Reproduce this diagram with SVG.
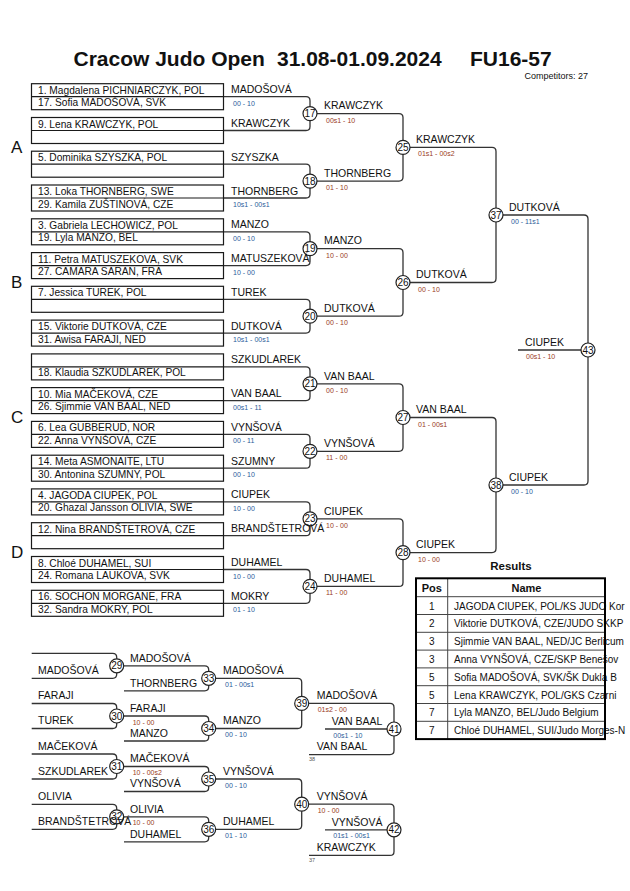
<svg xmlns="http://www.w3.org/2000/svg" width="630" height="891" viewBox="0 0 630 891">
<style>
text{font-family:"Liberation Sans",Arial,sans-serif;fill:#111}
.bx{fill:none;stroke:#1a1a1a;stroke-width:1.2}
.ln{fill:none;stroke:#333;stroke-width:1.3}
.c{fill:#fff;stroke:#222;stroke-width:1.2}
.cn{font-size:10px;text-anchor:middle}
.n{font-size:10.2px}
.w{font-size:10.5px}
.sb{font-size:7px;fill:#2a5c9a}
.sr{font-size:7px;fill:#9a3b22}
.pl{font-size:17px}
.tiny{font-size:5.5px;fill:#555}
.th{font-size:11px;font-weight:bold}
.tr{font-size:10px}
.tb{fill:none;stroke:#444;stroke-width:1}
</style>
<rect width="630" height="891" fill="#fff"/>
<g id="title">
<text font-weight="bold" font-size="21"><tspan x="73.5" y="66">Cracow Judo Open</tspan><tspan x="277" y="66">31.08-01.09.2024</tspan><tspan x="470" y="66">FU16-57</tspan></text>
<text x="588" y="78.5" font-size="9" text-anchor="end">Competitors: 27</text>
</g>
<g id="pool-labels">
<text class="pl" x="11" y="153">A</text>
<text class="pl" x="11" y="288">B</text>
<text class="pl" x="11" y="423">C</text>
<text class="pl" x="11" y="558">D</text>
</g>
<g id="connectors">
<path class="ln" d="M223.5 96.7H306Q310 96.7 310 100.7V126.5Q310 130.5 306 130.5H223.5"/>
<path class="ln" d="M223.5 164.2H306Q310 164.2 310 168.2V194Q310 198 306 198H223.5"/>
<path class="ln" d="M223.5 231.8H306Q310 231.8 310 235.8V261.6Q310 265.6 306 265.6H223.5"/>
<path class="ln" d="M223.5 299.3H306Q310 299.3 310 303.3V329.1Q310 333.1 306 333.1H223.5"/>
<path class="ln" d="M223.5 366.9H306Q310 366.9 310 370.9V396.6Q310 400.6 306 400.6H223.5"/>
<path class="ln" d="M223.5 434.4H306Q310 434.4 310 438.4V464.2Q310 468.2 306 468.2H223.5"/>
<path class="ln" d="M223.5 501.9H306Q310 501.9 310 505.9V531.7Q310 535.7 306 535.7H223.5"/>
<path class="ln" d="M223.5 569.5H306Q310 569.5 310 573.5V599.3Q310 603.3 306 603.3H223.5"/>
<path class="ln" d="M310 113.6H399Q403 113.6 403 117.6V177.1Q403 181.1 399 181.1H310"/>
<path class="ln" d="M310 248.7H399Q403 248.7 403 252.7V312.2Q403 316.2 399 316.2H310"/>
<path class="ln" d="M310 383.8H399Q403 383.8 403 387.8V447.3Q403 451.3 399 451.3H310"/>
<path class="ln" d="M310 518.8H399Q403 518.8 403 522.8V582.4Q403 586.4 399 586.4H310"/>
<path class="ln" d="M403 147.4H492Q496 147.4 496 151.4V278.5Q496 282.5 492 282.5H403"/>
<path class="ln" d="M403 417.5H492Q496 417.5 496 421.5V548.6Q496 552.6 492 552.6H403"/>
<path class="ln" d="M496 215H584Q588 215 588 219V481Q588 485 584 485H496"/>
<path class="ln" d="M518 350H588"/>
<path class="ln" d="M31.7 653.3H112.7Q116.7 653.3 116.7 657.3V674.3Q116.7 678.3 112.7 678.3H31.7"/>
<path class="ln" d="M31.7 703.5H112.7Q116.7 703.5 116.7 707.5V724.5Q116.7 728.5 112.7 728.5H31.7"/>
<path class="ln" d="M31.7 754H112.7Q116.7 754 116.7 758V775Q116.7 779 112.7 779H31.7"/>
<path class="ln" d="M31.7 804.3H112.7Q116.7 804.3 116.7 808.3V825.3Q116.7 829.3 112.7 829.3H31.7"/>
<path class="ln" d="M116.7 665.8H204.7Q208.7 665.8 208.7 669.8V686.8Q208.7 690.8 204.7 690.8H124"/>
<path class="ln" d="M116.7 716H204.7Q208.7 716 208.7 720V737Q208.7 741 204.7 741H124"/>
<path class="ln" d="M116.7 766.5H204.7Q208.7 766.5 208.7 770.5V787.5Q208.7 791.5 204.7 791.5H124"/>
<path class="ln" d="M116.7 816.8H204.7Q208.7 816.8 208.7 820.8V837.8Q208.7 841.8 204.7 841.8H124"/>
<path class="ln" d="M208.7 678.3H297.7Q301.7 678.3 301.7 682.3V724.5Q301.7 728.5 297.7 728.5H208.7"/>
<path class="ln" d="M208.7 779H297.7Q301.7 779 301.7 783V825.3Q301.7 829.3 297.7 829.3H208.7"/>
<path class="ln" d="M301.7 703.4H390Q394 703.4 394 707.4V750.6Q394 754.6 390 754.6H309"/>
<path class="ln" d="M325 729H394"/>
<path class="ln" d="M301.7 804.2H390Q394 804.2 394 808.2V851.4Q394 855.4 390 855.4H309"/>
<path class="ln" d="M325 829.8H394"/>
</g>
<g id="m17"><circle class="c" cx="310" cy="113.6" r="7"/><text class="cn" x="310" y="117.1">17</text><text class="w" x="324" y="109.3">KRAWCZYK</text><text class="sr" x="326" y="122.6">00s1 - 10</text></g>
<g id="m18"><circle class="c" cx="310" cy="181.1" r="7"/><text class="cn" x="310" y="184.6">18</text><text class="w" x="324" y="176.8">THORNBERG</text><text class="sr" x="326" y="190.1">01 - 10</text></g>
<g id="m19"><circle class="c" cx="310" cy="248.7" r="7"/><text class="cn" x="310" y="252.2">19</text><text class="w" x="324" y="244.4">MANZO</text><text class="sr" x="326" y="257.7">10 - 00</text></g>
<g id="m20"><circle class="c" cx="310" cy="316.2" r="7"/><text class="cn" x="310" y="319.7">20</text><text class="w" x="324" y="311.9">DUTKOVÁ</text><text class="sr" x="326" y="325.2">00 - 10</text></g>
<g id="m21"><circle class="c" cx="310" cy="383.8" r="7"/><text class="cn" x="310" y="387.3">21</text><text class="w" x="324" y="379.5">VAN BAAL</text><text class="sr" x="326" y="392.8">00 - 10</text></g>
<g id="m22"><circle class="c" cx="310" cy="451.3" r="7"/><text class="cn" x="310" y="454.8">22</text><text class="w" x="324" y="447">VYNŠOVÁ</text><text class="sr" x="326" y="460.3">11 - 00</text></g>
<g id="m23"><circle class="c" cx="310" cy="518.8" r="7"/><text class="cn" x="310" y="522.3">23</text><text class="w" x="324" y="514.5">CIUPEK</text><text class="sr" x="326" y="527.8">10 - 00</text></g>
<g id="m24"><circle class="c" cx="310" cy="586.4" r="7"/><text class="cn" x="310" y="589.9">24</text><text class="w" x="324" y="582.1">DUHAMEL</text><text class="sr" x="326" y="595.4">11 - 00</text></g>
<g id="m25"><circle class="c" cx="403" cy="147.4" r="7"/><text class="cn" x="403" y="150.9">25</text><text class="w" x="416" y="143.1">KRAWCZYK</text><text class="sr" x="418" y="156.4">01s1 - 00s2</text></g>
<g id="m26"><circle class="c" cx="403" cy="282.5" r="7"/><text class="cn" x="403" y="286">26</text><text class="w" x="416" y="278.2">DUTKOVÁ</text><text class="sr" x="418" y="291.5">00 - 10</text></g>
<g id="m27"><circle class="c" cx="403" cy="417.5" r="7"/><text class="cn" x="403" y="421">27</text><text class="w" x="416" y="413.2">VAN BAAL</text><text class="sr" x="418" y="426.5">01 - 00s1</text></g>
<g id="m28"><circle class="c" cx="403" cy="552.6" r="7"/><text class="cn" x="403" y="556.1">28</text><text class="w" x="416" y="548.3">CIUPEK</text><text class="sr" x="418" y="561.6">10 - 00</text></g>
<g id="m37"><circle class="c" cx="496" cy="215" r="7"/><text class="cn" x="496" y="218.5">37</text><text class="w" x="509" y="210.7">DUTKOVÁ</text><text class="sb" x="511" y="224">00 - 11s1</text></g>
<g id="m38"><circle class="c" cx="496" cy="485" r="7"/><text class="cn" x="496" y="488.5">38</text><text class="w" x="509" y="480.7">CIUPEK</text><text class="sb" x="511" y="494">00 - 10</text></g>
<g id="m43"><circle class="c" cx="588" cy="350" r="7"/><text class="cn" x="588" y="353.5">43</text><text class="w" x="525" y="345.7">CIUPEK</text><text class="sr" x="526" y="359">00s1 - 10</text></g>
<g id="e1"><rect class="bx" x="31.5" y="83.7" width="192" height="26"/><path class="bx" d="M31.5 96.7H223.5"/><text class="n" x="38" y="93.7">1. Magdalena PICHNIARCZYK, POL</text><text class="n" x="38" y="106.2">17. Sofia MADOŠOVÁ, SVK</text><text class="w" x="231" y="93.2">MADOŠOVÁ</text><text class="sb" x="233" y="105.7">00 - 10</text></g>
<g id="e2"><rect class="bx" x="31.5" y="117.5" width="192" height="26"/><path class="bx" d="M31.5 130.5H223.5"/><text class="n" x="38" y="127.5">9. Lena KRAWCZYK, POL</text><text class="w" x="231" y="127">KRAWCZYK</text></g>
<g id="e3"><rect class="bx" x="31.5" y="151.2" width="192" height="26"/><path class="bx" d="M31.5 164.2H223.5"/><text class="n" x="38" y="161.2">5. Dominika SZYSZKA, POL</text><text class="w" x="231" y="160.7">SZYSZKA</text></g>
<g id="e4"><rect class="bx" x="31.5" y="185" width="192" height="26"/><path class="bx" d="M31.5 198H223.5"/><text class="n" x="38" y="195">13. Loka THORNBERG, SWE</text><text class="n" x="38" y="207.5">29. Kamila ZUŠTINOVÁ, CZE</text><text class="w" x="231" y="194.5">THORNBERG</text><text class="sb" x="233" y="207">10s1 - 00s1</text></g>
<g id="e5"><rect class="bx" x="31.5" y="218.8" width="192" height="26"/><path class="bx" d="M31.5 231.8H223.5"/><text class="n" x="38" y="228.8">3. Gabriela LECHOWICZ, POL</text><text class="n" x="38" y="241.3">19. Lyla MANZO, BEL</text><text class="w" x="231" y="228.3">MANZO</text><text class="sb" x="233" y="240.8">00 - 10</text></g>
<g id="e6"><rect class="bx" x="31.5" y="252.6" width="192" height="26"/><path class="bx" d="M31.5 265.6H223.5"/><text class="n" x="38" y="262.6">11. Petra MATUSZEKOVA, SVK</text><text class="n" x="38" y="275.1">27. CAMARA SARAN, FRA</text><text class="w" x="231" y="262.1">MATUSZEKOVÁ</text><text class="sb" x="233" y="274.6">10 - 00</text></g>
<g id="e7"><rect class="bx" x="31.5" y="286.3" width="192" height="26"/><path class="bx" d="M31.5 299.3H223.5"/><text class="n" x="38" y="296.3">7. Jessica TUREK, POL</text><text class="w" x="231" y="295.8">TUREK</text></g>
<g id="e8"><rect class="bx" x="31.5" y="320.1" width="192" height="26"/><path class="bx" d="M31.5 333.1H223.5"/><text class="n" x="38" y="330.1">15. Viktorie DUTKOVÁ, CZE</text><text class="n" x="38" y="342.6">31. Awisa FARAJI, NED</text><text class="w" x="231" y="329.6">DUTKOVÁ</text><text class="sb" x="233" y="342.1">10s1 - 00s1</text></g>
<g id="e9"><rect class="bx" x="31.5" y="353.9" width="192" height="26"/><path class="bx" d="M31.5 366.9H223.5"/><text class="n" x="38" y="376.4">18. Klaudia SZKUDLAREK, POL</text><text class="w" x="231" y="363.4">SZKUDLAREK</text></g>
<g id="e10"><rect class="bx" x="31.5" y="387.6" width="192" height="26"/><path class="bx" d="M31.5 400.6H223.5"/><text class="n" x="38" y="397.6">10. Mia MAČEKOVÁ, CZE</text><text class="n" x="38" y="410.1">26. Sjimmie VAN BAAL, NED</text><text class="w" x="231" y="397.1">VAN BAAL</text><text class="sb" x="233" y="409.6">00s1 - 11</text></g>
<g id="e11"><rect class="bx" x="31.5" y="421.4" width="192" height="26"/><path class="bx" d="M31.5 434.4H223.5"/><text class="n" x="38" y="431.4">6. Lea GUBBERUD, NOR</text><text class="n" x="38" y="443.9">22. Anna VYNŠOVÁ, CZE</text><text class="w" x="231" y="430.9">VYNŠOVÁ</text><text class="sb" x="233" y="443.4">00 - 11</text></g>
<g id="e12"><rect class="bx" x="31.5" y="455.2" width="192" height="26"/><path class="bx" d="M31.5 468.2H223.5"/><text class="n" x="38" y="465.2">14. Meta ASMONAITE, LTU</text><text class="n" x="38" y="477.7">30. Antonina SZUMNY, POL</text><text class="w" x="231" y="464.7">SZUMNY</text><text class="sb" x="233" y="477.2">00 - 10</text></g>
<g id="e13"><rect class="bx" x="31.5" y="488.9" width="192" height="26"/><path class="bx" d="M31.5 501.9H223.5"/><text class="n" x="38" y="498.9">4. JAGODA CIUPEK, POL</text><text class="n" x="38" y="511.4">20. Ghazal Jansson OLIVIA, SWE</text><text class="w" x="231" y="498.4">CIUPEK</text><text class="sb" x="233" y="510.9">10 - 00</text></g>
<g id="e14"><rect class="bx" x="31.5" y="522.7" width="192" height="26"/><path class="bx" d="M31.5 535.7H223.5"/><text class="n" x="38" y="532.7">12. Nina BRANDŠTETROVÁ, CZE</text><text class="w" x="231" y="532.2">BRANDŠTETROVÁ</text></g>
<g id="e15"><rect class="bx" x="31.5" y="556.5" width="192" height="26"/><path class="bx" d="M31.5 569.5H223.5"/><text class="n" x="38" y="566.5">8. Chloé DUHAMEL, SUI</text><text class="n" x="38" y="579">24. Romana LAUKOVA, SVK</text><text class="w" x="231" y="566">DUHAMEL</text><text class="sb" x="233" y="578.5">10 - 00</text></g>
<g id="e16"><rect class="bx" x="31.5" y="590.3" width="192" height="26"/><path class="bx" d="M31.5 603.3H223.5"/><text class="n" x="38" y="600.3">16. SOCHON MORGANE, FRA</text><text class="n" x="38" y="612.8">32. Sandra MOKRY, POL</text><text class="w" x="231" y="599.8">MOKRY</text><text class="sb" x="233" y="612.3">01 - 10</text></g>
<g id="m29"><circle class="c" cx="116.7" cy="665.8" r="7"/><text class="cn" x="116.7" y="669.3">29</text><text class="w" x="130" y="661.5">MADOŠOVÁ</text></g>
<g id="m30"><circle class="c" cx="116.7" cy="716" r="7"/><text class="cn" x="116.7" y="719.5">30</text><text class="w" x="130" y="711.7">FARAJI</text><text class="sr" x="132.7" y="724.5">10 - 00</text></g>
<g id="m31"><circle class="c" cx="116.7" cy="766.5" r="7"/><text class="cn" x="116.7" y="770">31</text><text class="w" x="130" y="762.2">MAČEKOVÁ</text><text class="sr" x="132.7" y="775">10 - 00s2</text></g>
<g id="m32"><circle class="c" cx="116.7" cy="816.8" r="7"/><text class="cn" x="116.7" y="820.3">32</text><text class="w" x="130" y="812.5">OLIVIA</text><text class="sr" x="132.7" y="825.3">10 - 00</text></g>
<g id="m33"><circle class="c" cx="208.7" cy="678.3" r="7"/><text class="cn" x="208.7" y="681.8">33</text><text class="w" x="223" y="674">MADOŠOVÁ</text><text class="sb" x="225" y="686.8">01 - 00s1</text></g>
<g id="m34"><circle class="c" cx="208.7" cy="728.5" r="7"/><text class="cn" x="208.7" y="732">34</text><text class="w" x="223" y="724.2">MANZO</text><text class="sb" x="225" y="737">00 - 10</text></g>
<g id="m35"><circle class="c" cx="208.7" cy="779" r="7"/><text class="cn" x="208.7" y="782.5">35</text><text class="w" x="223" y="774.7">VYNŠOVÁ</text><text class="sb" x="225" y="787.5">00 - 10</text></g>
<g id="m36"><circle class="c" cx="208.7" cy="829.3" r="7"/><text class="cn" x="208.7" y="832.8">36</text><text class="w" x="223" y="825">DUHAMEL</text><text class="sb" x="225" y="837.8">01 - 10</text></g>
<g id="m39"><circle class="c" cx="301.7" cy="703.4" r="7"/><text class="cn" x="301.7" y="706.9">39</text><text class="w" x="316.7" y="699.1">MADOŠOVÁ</text><text class="sr" x="317.7" y="711.9">01s2 - 00</text></g>
<g id="m40"><circle class="c" cx="301.7" cy="804.2" r="7"/><text class="cn" x="301.7" y="807.7">40</text><text class="w" x="316.7" y="799.9">VYNŠOVÁ</text><text class="sr" x="317.7" y="812.7">10 - 00</text></g>
<g id="m41"><circle class="c" cx="394" cy="729" r="7"/><text class="cn" x="394" y="732.5">41</text><text class="w" x="331.7" y="724.7">VAN BAAL</text><text class="sb" x="333.3" y="737.5">00s1 - 10</text><text class="w" x="316.7" y="750.3">VAN BAAL</text><text class="tiny" x="309" y="760.5">38</text></g>
<g id="m42"><circle class="c" cx="394" cy="829.8" r="7"/><text class="cn" x="394" y="833.3">42</text><text class="w" x="331.7" y="825.5">VYNŠOVÁ</text><text class="sb" x="333.3" y="838.3">01s1 - 00s1</text><text class="w" x="316.7" y="851.1">KRAWCZYK</text><text class="tiny" x="309" y="861.5">37</text></g>
<g id="rep-entries">
<text class="w" x="38" y="674">MADOŠOVÁ</text>
<text class="w" x="38" y="699.2">FARAJI</text>
<text class="w" x="38" y="724.2">TUREK</text>
<text class="w" x="38" y="749.7">MAČEKOVÁ</text>
<text class="w" x="38" y="774.7">SZKUDLAREK</text>
<text class="w" x="38" y="800">OLIVIA</text>
<text class="w" x="38" y="825">BRANDŠTETROVÁ</text>
<text class="w" x="130" y="686.5">THORNBERG</text>
<text class="w" x="130" y="736.7">MANZO</text>
<text class="w" x="130" y="787.2">VYNŠOVÁ</text>
<text class="w" x="130" y="837.5">DUHAMEL</text>
</g>
<g id="results">
<text x="511" y="570" font-size="11.5" font-weight="bold" text-anchor="middle">Results</text>
<text class="th" x="431.8" y="591.5" text-anchor="middle">Pos</text>
<text class="th" x="526.5" y="591.5" text-anchor="middle">Name</text>
<g class="tr" text-anchor="middle">
<text class="tr" x="431.8" y="609.6">1</text>
<text class="tr" x="431.8" y="627.4">2</text>
<text class="tr" x="431.8" y="645.2">3</text>
<text class="tr" x="431.8" y="663">3</text>
<text class="tr" x="431.8" y="680.8">5</text>
<text class="tr" x="431.8" y="698.6">5</text>
<text class="tr" x="431.8" y="716.4">7</text>
<text class="tr" x="431.8" y="734.2">7</text>
</g>
<text class="tr" x="454" y="609.6">JAGODA CIUPEK, POL/KS JUDO Kor</text>
<text class="tr" x="454" y="627.4">Viktorie DUTKOVÁ, CZE/JUDO SKKP</text>
<text class="tr" x="454" y="645.2">Sjimmie VAN BAAL, NED/JC Berlicum</text>
<text class="tr" x="454" y="663">Anna VYNŠOVÁ, CZE/SKP Benešov</text>
<text class="tr" x="454" y="680.8">Sofia MADOŠOVÁ, SVK/ŠK Dukla B</text>
<text class="tr" x="454" y="698.6">Lena KRAWCZYK, POL/GKS Czarni</text>
<text class="tr" x="454" y="716.4">Lyla MANZO, BEL/Judo Belgium</text>
<text class="tr" x="454" y="734.2">Chloé DUHAMEL, SUI/Judo Morges-N</text>
<path class="tb" d="M416 596.7H605M416 614.5H605M416 632.3H605M416 650.1H605M416 667.9H605M416 685.7H605M416 703.5H605M416 721.3H605M447.7 578.3V739.1"/>
<rect x="416" y="578.3" width="189" height="160.8" fill="none" stroke="#000" stroke-width="2"/>
</g>
</svg>
